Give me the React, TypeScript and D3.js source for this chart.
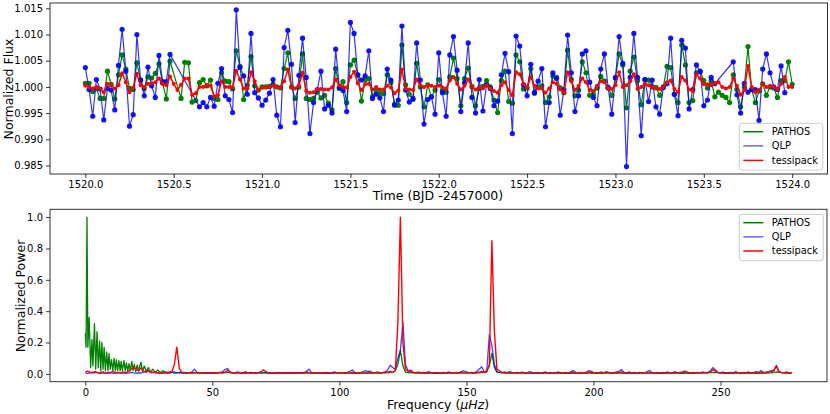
import { useEffect, useRef } from 'react';
import * as d3 from 'd3';

const W = 830;
const H = 414;

// ---- top panel: light curves, 30-min cadence from BJD 1520.0 to 1524.0 ----
// flux values stored as deviation from 1.0 in units of 1e-4 (null = no data)
const T0 = 1520.0;
const CADENCE = 1 / 48;

const qlpFlux: (number | null)[] = [
  37, -5, -56, 14, -4, -63, -3, -6, -44, 41,
  110, 30, -75, -53, 100, 13, -17, 38, 2, -20,
  60, 10, 10, 62, null, null, null, null, null, null,
  null, -38, -30, -38, -20, -37, 7, 35, -17, -24,
  -49, 147, 37, 21, -14, 102, -11, -21, -35, -25,
  -12, 14, -54, -76, 75, 108, 43, -68, 22, 93,
  18, -89, -30, -5, 30, -42, -35, -50, 72, -1,
  -7, -47, 123, 102, 23, 13, 21, 69, -22, -14,
  -21, -47, 34, 13, -35, -25, 116, -6, -29, -22,
  84, 13, -71, -24, -19, -52, 65, -11, -56, 61,
  96, 32, -47, 8, 84, -20, -50, 14, -46, 4,
  -3, -36, -27, 23, 64, 29, -89, 97, 78, 4,
  -17, 43, -11, 11, 35, -76, -30, 27, 16, -54,
  -5, 99, 27, -47, -17, 63, 69, 9, -20, -36,
  34, 63, -1, -52, 18, 96, 45, -152, 18, 102,
  18, -93, 14, -28, 13, -38, -52, -1, 6, 93,
  -14, -55, 89, 74, -42, -5, 42, 29, -36, -25,
  18, 6, null, null, null, null, 48, -15, -50, 7,
  -10, -5, -5, -64, 34, 63, 27, 0, -5, 40,
  -11, null, null,
];

const pathosFlux: (number | null)[] = [
  7, 7, -9, -3, -22, -22, 30, 5, -23, 23,
  61, 34, -3, -5, 46, 13, -3, 19, 17, 26,
  44, 7, -23, 49, null, null, -22, 47, 46, -29,
  -26, 8, 14, 2, 13, -22, -24, 27, 11, 10,
  -4, 69, 39, -24, 3, 58, 2, -6, 0, 0,
  1, 5, 0, -2, 35, 65, 0, -22, 0, 63,
  -22, -24, -22, -10, -21, -16, -31, -44, 35, -3,
  10, -30, 42, 51, 23, -27, 13, 16, -19, -5,
  -12, -13, 23, 8, -33, -35, 80, 4, -14, -24,
  45, 0, -38, 4, -19, -6, 14, -6, -10, 19,
  55, 16, -36, 16, 36, 1, -36, -3, 1, 12,
  0, -25, -49, 12, 30, -28, -31, 61, 48, -4,
  -2, 35, -12, 0, 2, -30, -19, 21, 18, -2,
  -11, 70, 14, -17, -6, 48, 27, -16, -14, -2,
  20, 11, -2, -16, 17, 63, 42, -40, 30, 57,
  12, -34, 14, 13, 0, -1, -16, 0, 39, 37,
  -14, -30, 80, 42, -30, -26, 27, 30, 12, -2,
  12, -19, -10, -16, -20, -30, 23, -5, -38, 0,
  77, -5, -30, -8, 6, -16, 0, -2, -20, 12,
  12, 48, 5,
];

const tessipackFlux: (number | null)[] = [
  2, 0, -3, 0, -4, -10, 6, 3, -3, 3,
  26, 9, -10, -1, 25, 3, 0, 6, 7, 9,
  16, 6, 3, 20, 6, -6, 4, 16, 16, -15,
  -12, 0, 0, 3, 2, -18, -16, 11, 0, 0,
  -1, 31, 14, -3, -3, 28, 11, -6, -1, 0,
  0, 2, 0, -1, 11, 33, -1, -3, 2, 27,
  -8, -11, -10, -5, -4, -5, -5, -1, 14, 3,
  0, -1, 19, 29, 7, -6, 5, 6, -5, 0,
  -5, -5, 2, -1, -12, -7, 33, -3, -5, -6,
  14, 3, 0, 2, 2, 0, 2, -1, -3, 12,
  19, 6, -5, 2, 14, 0, -5, -1, -3, 3,
  -3, -8, -11, 3, 9, -6, -16, 28, 24, 6,
  -1, 19, 2, -3, -3, -11, -3, 9, 6, -5,
  -10, 28, 11, -6, 2, 16, 9, -6, -8, 2,
  11, 9, -3, -4, 3, 28, 0, 3, 11, 24,
  -4, 0, 6, 3, 0, -3, -4, 0, 9, 12,
  -4, -10, 19, 12, -5, -8, 24, 16, 5, 5,
  3, 7, 9, 0, -3, 0, 16, 2, -15, -6,
  40, 0, -10, -6, 5, 0, 2, 0, -5, 6,
  19, 0, 0,
];

const fluxTicks = [0.985, 0.99, 0.995, 1.0, 1.005, 1.01, 1.015];
const timeTicks = [1520, 1520.5, 1521, 1521.5, 1522, 1522.5, 1523, 1523.5, 1524];

// ---- bottom panel: amplitude spectra ----
// QLP and tessipack: power in thousandths, one value per 1 uHz (0..278)
const qlpPower = [
  5, 3, 8, 4, 10, 6, 3, 7, 5, 4,
  6, 3, 5, 8, 4, 6, 3, 5, 9, 6,
  4, 7, 5, 12, 20, 15, 8, 10, 6, 5,
  7, 4, 6, 5, 8, 12, 6, 10, 5, 4,
  6, 8, 12, 30, 10, 6, 5, 8, 4, 6,
  5, 7, 4, 9, 12, 28, 35, 10, 6, 8,
  12, 6, 5, 14, 7, 10, 6, 4, 8, 5,
  6, 9, 5, 7, 4, 6, 10, 5, 8, 6,
  4, 7, 5, 6, 9, 5, 8, 15, 30, 10,
  6, 5, 8, 4, 7, 10, 5, 6, 12, 8,
  6, 9, 5, 10, 14, 25, 10, 7, 6, 12,
  20, 15, 18, 8, 6, 10, 5, 8, 12, 25,
  55, 40, 30, 100, 150, 330, 60, 20, 15, 10,
  8, 12, 6, 9, 5, 14, 8, 6, 10, 7,
  5, 9, 6, 12, 8, 7, 10, 6, 15, 20,
  12, 8, 10, 6, 14, 30, 45, 12, 20, 250,
  180, 60, 15, 10, 8, 12, 6, 14, 9, 7,
  10, 6, 12, 5, 8, 14, 7, 5, 9, 6,
  8, 12, 6, 10, 5, 7, 12, 8, 6, 10,
  7, 12, 22, 8, 6, 10, 5, 9, 20, 18,
  10, 6, 8, 12, 7, 14, 10, 6, 8, 12,
  15, 28, 10, 7, 12, 6, 9, 5, 10, 8,
  6, 12, 22, 8, 6, 10, 5, 9, 7, 12,
  8, 6, 14, 7, 10, 5, 12, 8, 6, 9,
  7, 10, 6, 12, 8, 9, 20, 40, 25, 10,
  6, 12, 5, 8, 10, 6, 14, 7, 5, 10,
  8, 12, 6, 9, 14, 10, 22, 8, 12, 15,
  20, 25, 55, 15, 10, 8, 12, 6, 8,
];

const tessipackPower = [
  12, 18, 8, 10, 15, 6, 9, 12, 5, 8,
  10, 14, 6, 9, 7, 12, 8, 15, 30, 45,
  25, 20, 40, 15, 10, 22, 8, 12, 6, 9,
  5, 8, 10, 6, 12, 55, 170, 35, 8, 6,
  5, 7, 4, 8, 6, 5, 9, 4, 6, 5,
  7, 4, 6, 8, 5, 10, 22, 12, 6, 5,
  8, 5, 6, 4, 7, 5, 6, 4, 8, 12,
  25, 15, 6, 5, 7, 4, 6, 5, 8, 4,
  6, 5, 7, 4, 6, 8, 5, 12, 8, 5,
  6, 4, 7, 5, 6, 4, 8, 5, 6, 7,
  5, 8, 4, 6, 5, 9, 6, 5, 7, 8,
  6, 5, 9, 6, 5, 12, 6, 8, 10, 12,
  15, 10, 20, 320, 1000, 200, 30, 15, 25, 10,
  8, 6, 9, 5, 7, 6, 5, 8, 6, 5,
  7, 5, 6, 8, 5, 7, 6, 5, 9, 6,
  5, 8, 6, 5, 7, 10, 15, 8, 12, 60,
  850, 270, 30, 20, 8, 6, 9, 5, 7, 6,
  5, 8, 6, 7, 5, 6, 9, 5, 6, 8,
  5, 7, 6, 5, 8, 6, 5, 7, 6, 5,
  8, 6, 10, 5, 7, 6, 8, 5, 12, 10,
  6, 8, 5, 7, 6, 10, 8, 5, 7, 6,
  8, 12, 6, 5, 7, 6, 8, 5, 6, 7,
  5, 8, 6, 7, 5, 6, 8, 5, 7, 6,
  8, 5, 7, 6, 8, 12, 18, 10, 6, 8,
  5, 7, 6, 8, 6, 7, 12, 28, 18, 8,
  6, 5, 8, 6, 7, 5, 8, 6, 7, 5,
  6, 8, 7, 5, 9, 6, 10, 8, 6, 12,
  15, 20, 50, 12, 8, 6, 9, 7, 6,
];

// PATHOS: [frequency uHz, normalized power]
const pathosSpec: [number, number][] = [
  [0, 0.26], [0.3, 0.17], [0.65, 1.0], [1.0, 0.17], [1.5, 0.36], [2.1, 0.04],
  [2.6, 0.22], [3.0, 0.05], [3.6, 0.32], [4.1, 0.03], [4.6, 0.27], [5.1, 0.04],
  [5.6, 0.21], [6.1, 0.02], [6.5, 0.2], [7.0, 0.03], [7.4, 0.17], [7.9, 0.02],
  [8.4, 0.14], [8.9, 0.02], [9.3, 0.13], [9.8, 0.03], [10.3, 0.09], [10.8, 0.02],
  [11.3, 0.1], [11.8, 0.02], [12.2, 0.09], [12.7, 0.02], [13.2, 0.085], [13.7, 0.02],
  [14.1, 0.08], [14.6, 0.02], [15.2, 0.085], [15.7, 0.02], [16.2, 0.07], [16.7, 0.015],
  [17.2, 0.065], [17.7, 0.02], [18.3, 0.08], [18.8, 0.02], [19.3, 0.06], [19.8, 0.015],
  [20.4, 0.055], [20.9, 0.02], [21.9, 0.075], [22.5, 0.015], [23.2, 0.05], [24, 0.015],
  [24.8, 0.04], [25.6, 0.01], [26.5, 0.03], [27.5, 0.01], [28.5, 0.025], [29.5, 0.008],
  [30.5, 0.02], [32, 0.008], [33.5, 0.015], [35, 0.005], [38, 0.01], [42, 0.006],
  [46, 0.008], [50, 0.005], [54, 0.009], [58, 0.006], [62, 0.005], [66, 0.008],
  [70, 0.006], [74, 0.005], [78, 0.007], [82, 0.005], [86, 0.006], [90, 0.004],
  [94, 0.006], [98, 0.005], [102, 0.006], [106, 0.004], [110, 0.006], [114, 0.005],
  [118, 0.007], [121, 0.01], [122, 0.02], [123, 0.06], [124, 0.15], [125, 0.05],
  [126, 0.01], [130, 0.005], [134, 0.006], [138, 0.004], [142, 0.006], [146, 0.005],
  [150, 0.006], [154, 0.007], [157, 0.01], [158, 0.02], [159, 0.05], [160, 0.13],
  [161, 0.04], [162, 0.01], [166, 0.005], [172, 0.005], [178, 0.004], [184, 0.006],
  [190, 0.004], [196, 0.005], [202, 0.004], [208, 0.006], [214, 0.004], [220, 0.005],
  [226, 0.004], [232, 0.005], [238, 0.004], [244, 0.006], [248, 0.01], [252, 0.004],
  [258, 0.005], [264, 0.004], [270, 0.006], [272, 0.012], [276, 0.005], [278, 0.004],
];

const freqTicks = [0, 50, 100, 150, 200, 250];
const powerTicks = [0, 0.2, 0.4, 0.6, 0.8, 1.0];

const GREEN = '#008000';
const BLUE = '#0000ff';
const RED = '#ff0000';
const FONT = 'DejaVu Sans, sans-serif';

type Pt = { x: number; y: number };

export default function App() {
  const svgRef = useRef<SVGSVGElement>(null);

  useEffect(() => {
    const svg = d3.select(svgRef.current);
    svg.selectAll('*').remove();

    const top = { l: 50, r: 827.5, t: 3, b: 174 };
    const bot = { l: 50, r: 827, t: 209.3, b: 381.7 };

    const xT = d3.scaleLinear().domain([1519.8, 1524.2]).range([top.l, top.r]);
    const yT = d3.scaleLinear().domain([0.98338, 1.01601]).range([top.b, top.t]);
    const xF = d3.scaleLinear().domain([-13.9, 291.9]).range([bot.l, bot.r]);
    const yF = d3.scaleLinear().domain([-0.05, 1.05]).range([bot.b, bot.t]);

    const toPts = (vals: (number | null)[]): Pt[] =>
      vals
        .map((v, i) => (v == null ? null : { x: T0 + i * CADENCE, y: 1 + v / 1e4 }))
        .filter((d): d is Pt => d != null);

    const line = (sx: d3.ScaleLinear<number, number>, sy: d3.ScaleLinear<number, number>) =>
      d3.line<Pt>().x(d => sx(d.x)).y(d => sy(d.y));

    // top panel series (plot order = legend order)
    const gTop = svg.append('g');
    const topSeries = [
      { pts: toPts(pathosFlux), color: GREEN, lw: 1.2, r: 2.6, lop: 1, mop: 1 },
      { pts: toPts(qlpFlux), color: BLUE, lw: 1.2, r: 2.6, lop: 0.8, mop: 0.92 },
      { pts: toPts(tessipackFlux), color: RED, lw: 1.5, r: 2.0, lop: 1, mop: 1 },
    ];
    topSeries.forEach(s => {
      gTop.append('path')
        .datum(s.pts)
        .attr('fill', 'none')
        .attr('stroke', s.color)
        .attr('stroke-width', s.lw)
        .attr('stroke-opacity', s.lop)
        .attr('stroke-linejoin', 'round')
        .attr('d', line(xT, yT));
      gTop.append('g')
        .selectAll('circle')
        .data(s.pts)
        .join('circle')
        .attr('cx', d => xT(d.x))
        .attr('cy', d => yT(d.y))
        .attr('r', s.r)
        .attr('fill', s.color)
        .attr('fill-opacity', s.mop);
    });

    // bottom panel spectra
    const gBot = svg.append('g');
    const gridPts = (vals: number[]): Pt[] => vals.map((v, i) => ({ x: i, y: v / 1000 }));
    const botSeries = [
      { pts: pathosSpec.map(([f, p]) => ({ x: f, y: p })), color: GREEN, lw: 1.3, op: 1 },
      { pts: gridPts(qlpPower), color: BLUE, lw: 1.3, op: 0.75 },
      { pts: gridPts(tessipackPower), color: RED, lw: 1.4, op: 1 },
    ];
    botSeries.forEach(s => {
      gBot.append('path')
        .datum(s.pts)
        .attr('fill', 'none')
        .attr('stroke', s.color)
        .attr('stroke-width', s.lw)
        .attr('stroke-opacity', s.op)
        .attr('stroke-linejoin', 'round')
        .attr('d', line(xF, yF));
    });

    // frames
    [top, bot].forEach(p => {
      svg.append('rect')
        .attr('x', p.l)
        .attr('y', p.t)
        .attr('width', p.r - p.l)
        .attr('height', p.b - p.t)
        .attr('fill', 'none')
        .attr('stroke', '#333')
        .attr('stroke-width', 1);
    });

    const styleAxis = (g: d3.Selection<SVGGElement, unknown, null, undefined>) => {
      g.attr('font-family', FONT).attr('font-size', 10);
      g.select('.domain').remove();
      g.selectAll('line').attr('stroke', '#000').attr('stroke-width', 0.8);
      g.selectAll('text').attr('fill', '#000');
    };

    svg.append('g')
      .attr('transform', `translate(0,${top.b})`)
      .call(d3.axisBottom(xT).tickValues(timeTicks).tickFormat(d3.format('.1f')).tickSize(4).tickPadding(3))
      .call(styleAxis);
    svg.append('g')
      .attr('transform', `translate(${top.l},0)`)
      .call(d3.axisLeft(yT).tickValues(fluxTicks).tickFormat(d3.format('.3f')).tickSize(4).tickPadding(3))
      .call(styleAxis);
    svg.append('g')
      .attr('transform', `translate(0,${bot.b})`)
      .call(d3.axisBottom(xF).tickValues(freqTicks).tickFormat(d3.format('d')).tickSize(4).tickPadding(3))
      .call(styleAxis);
    svg.append('g')
      .attr('transform', `translate(${bot.l},0)`)
      .call(d3.axisLeft(yF).tickValues(powerTicks).tickFormat(d3.format('.1f')).tickSize(4).tickPadding(3))
      .call(styleAxis);

    // axis titles
    const title = (x: number, y: number, rot: number) =>
      svg.append('text')
        .attr('transform', `translate(${x},${y}) rotate(${rot})`)
        .attr('text-anchor', 'middle')
        .attr('font-family', FONT)
        .attr('font-size', 12.5)
        .attr('fill', '#000');

    title(438, 200, 0).text('Time (BJD -2457000)');
    title(13, 89, -90).text('Normalized Flux');
    title(25, 296, -90).text('Normalized Power');
    const freqLabel = title(438, 409, 0);
    freqLabel.append('tspan').text('Frequency (');
    freqLabel.append('tspan').attr('font-style', 'italic').text('μHz');
    freqLabel.append('tspan').text(')');

    // legends
    const legendItems = [
      { label: 'PATHOS', color: GREEN, op: 1 },
      { label: 'QLP', color: BLUE, op: 0.6 },
      { label: 'tessipack', color: RED, op: 1 },
    ];
    const legend = (x0: number, y0: number, w: number, h: number, rows: number[]) => {
      const lg = svg.append('g');
      lg.append('rect')
        .attr('x', x0)
        .attr('y', y0)
        .attr('width', w)
        .attr('height', h)
        .attr('rx', 2.5)
        .attr('fill', '#fff')
        .attr('fill-opacity', 0.8)
        .attr('stroke', '#cccccc')
        .attr('stroke-width', 1);
      legendItems.forEach((it, i) => {
        lg.append('line')
          .attr('x1', x0 + 4)
          .attr('x2', x0 + 24)
          .attr('y1', rows[i])
          .attr('y2', rows[i])
          .attr('stroke', it.color)
          .attr('stroke-opacity', it.op)
          .attr('stroke-width', 1.5);
        lg.append('text')
          .attr('x', x0 + 32.5)
          .attr('y', rows[i])
          .attr('dy', '0.35em')
          .attr('font-family', FONT)
          .attr('font-size', 9.8)
          .attr('fill', '#000')
          .text(it.label);
      });
    };
    legend(739.3, 123.3, 83.5, 46.7, [131.7, 145.9, 160.4]);
    legend(739.3, 214.3, 84, 46.4, [222.7, 236.8, 251]);
  }, []);

  return (
    <div style={{ position: 'absolute', left: 0, top: 0 }}>
      <svg ref={svgRef} width={W} height={H} style={{ display: 'block', background: '#fff' }} />
    </div>
  );
}
